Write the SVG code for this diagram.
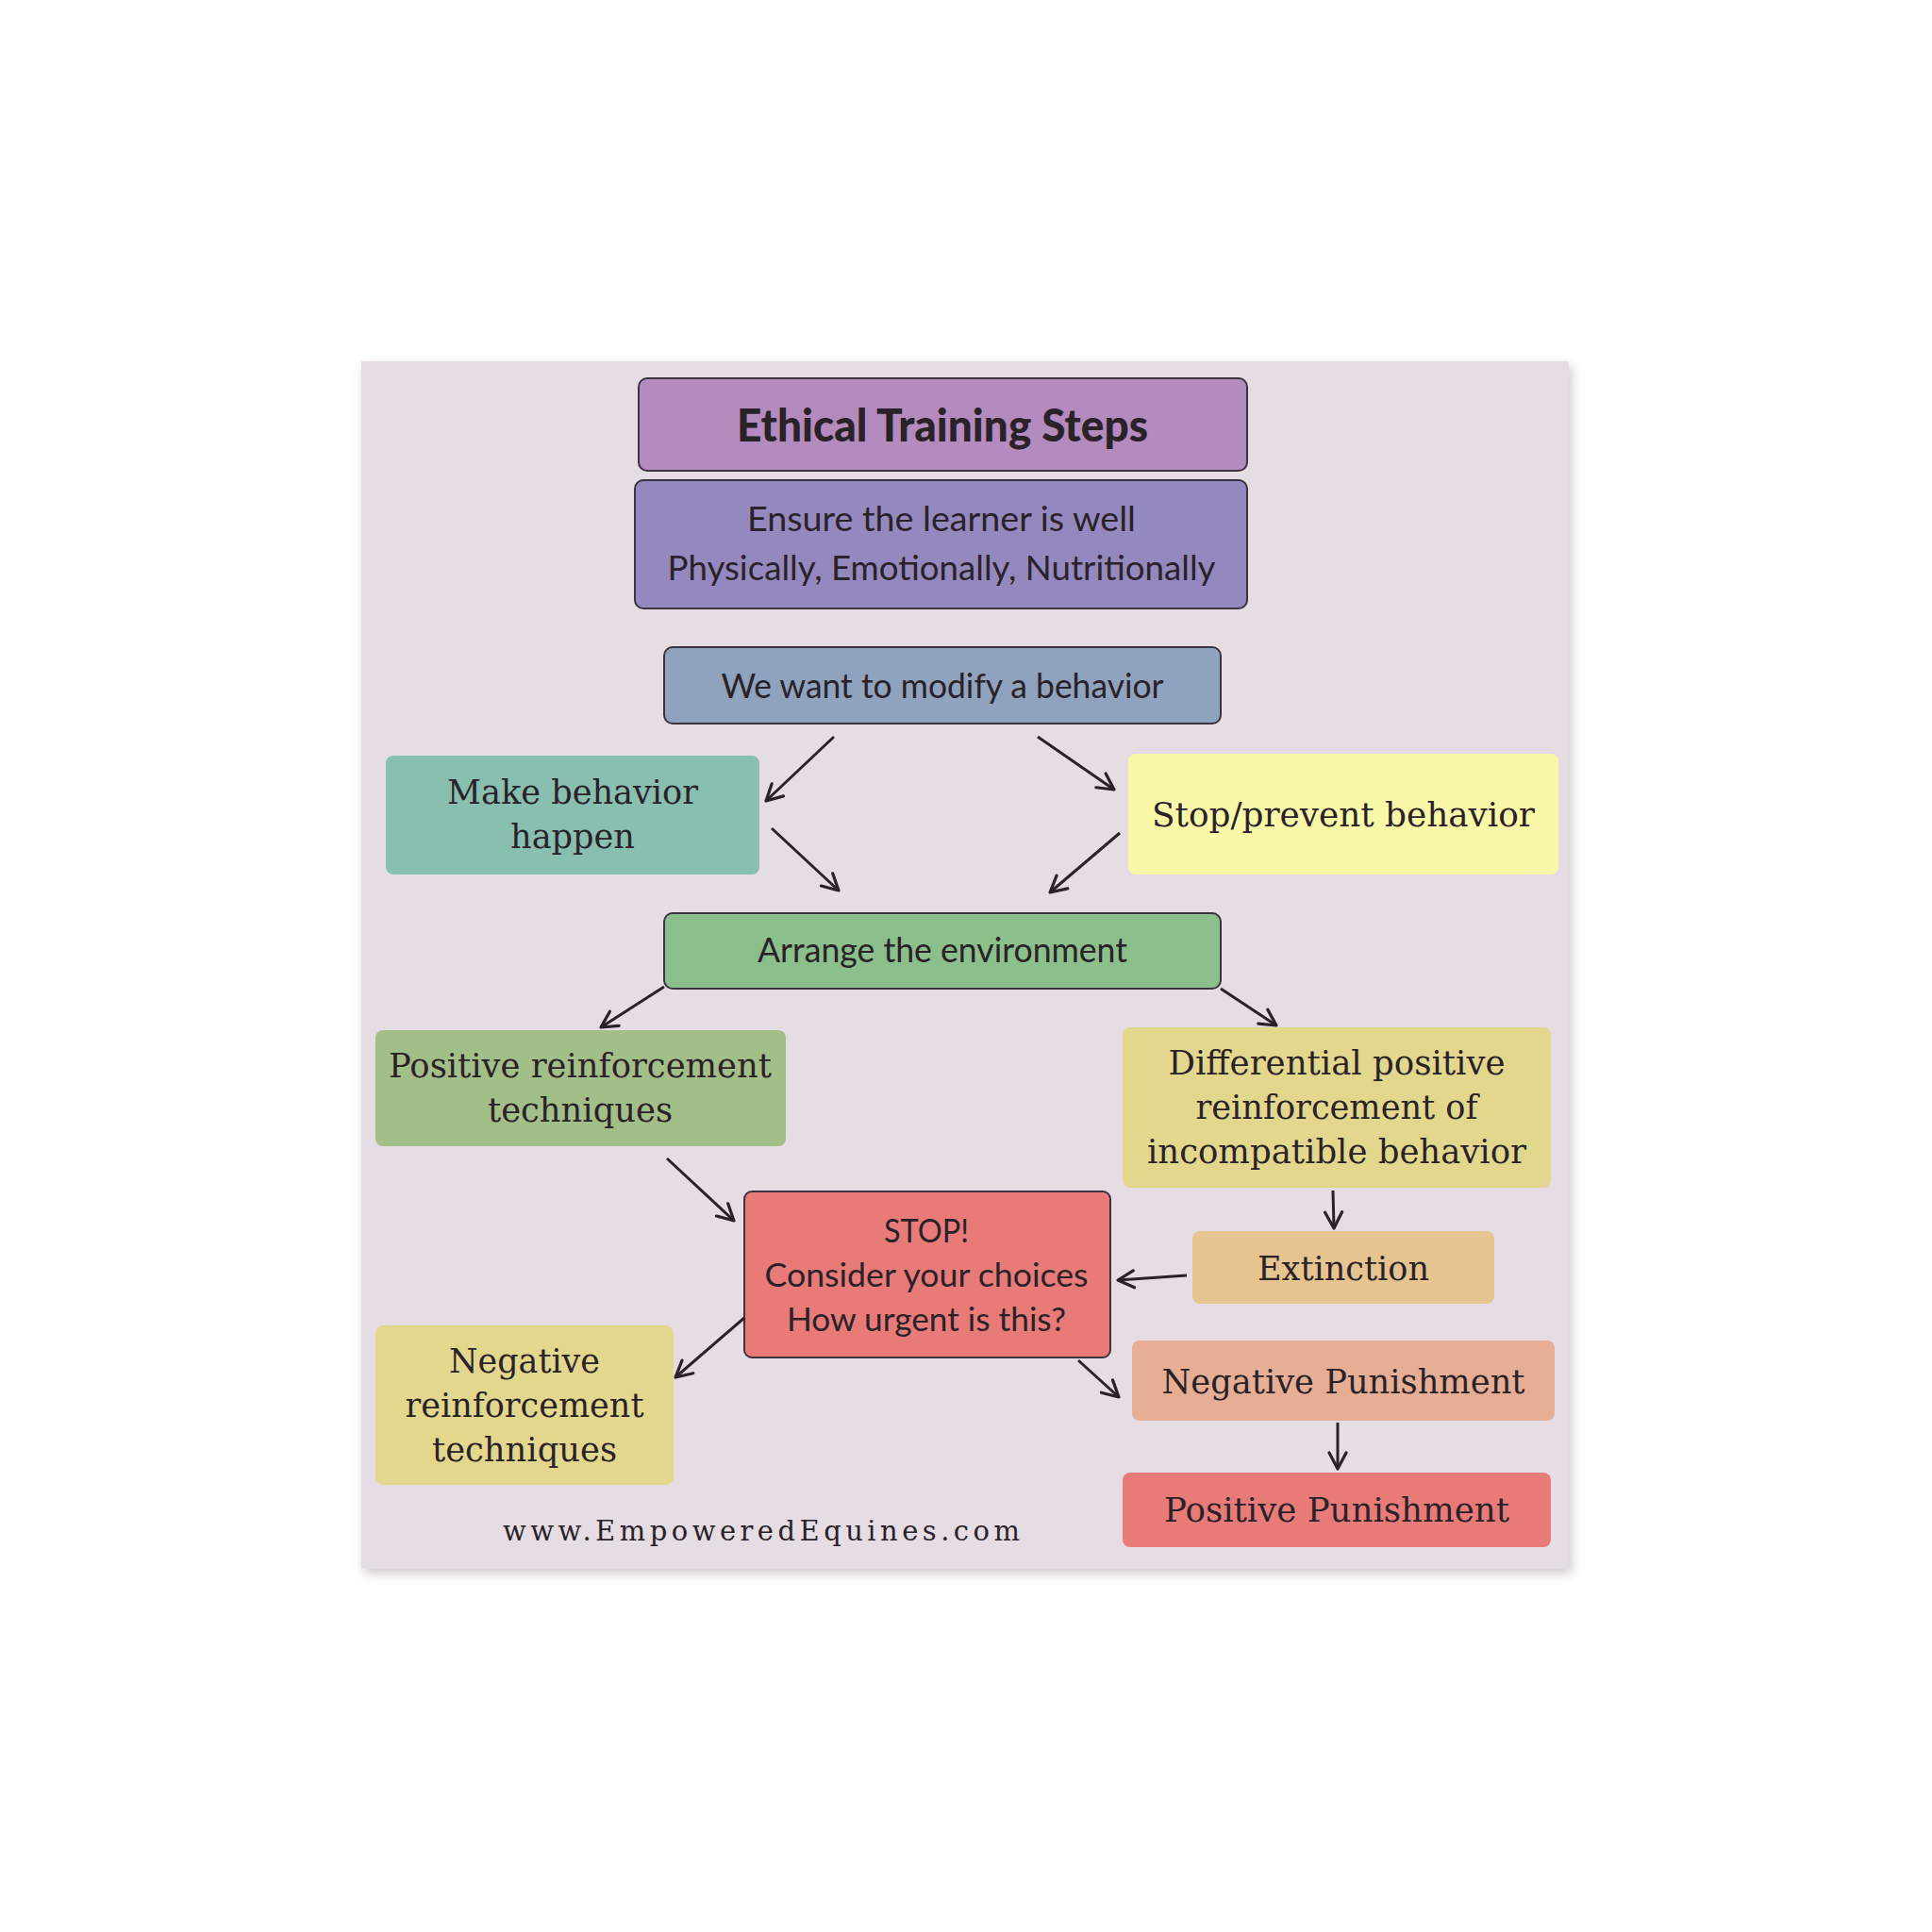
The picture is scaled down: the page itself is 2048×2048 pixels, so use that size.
<svg xmlns="http://www.w3.org/2000/svg" width="2048" height="2048" viewBox="0 0 2048 2048">
<style>
.sans{font-family:Lato,"Noto Sans","Liberation Sans",sans-serif;fill:#2a2228;text-anchor:middle}
.serif{font-family:"DejaVu Serif","Liberation Serif",serif;fill:#2a2228;text-anchor:middle}
.bordered{stroke:#3b3340;stroke-width:2}
.conn{stroke:#2a2228;stroke-width:3;fill:none;marker-end:url(#arr)}
</style>
<defs>
<marker id="arr" viewBox="0 0 24 24" refX="22" refY="12" markerWidth="24" markerHeight="24" markerUnits="userSpaceOnUse" orient="auto">
<path d="M5,3 L22,12 L5,21" fill="none" stroke="#2a2228" stroke-width="3.2" stroke-linecap="round" stroke-linejoin="round"/>
</marker>
<filter id="sh" x="-5%" y="-5%" width="110%" height="110%">
<feGaussianBlur stdDeviation="6"/>
</filter>
</defs>
<rect width="2048" height="2048" fill="#ffffff"/>
<rect x="386" y="388" width="1280" height="1280" fill="#cfc8cc" filter="url(#sh)"/>
<rect x="383" y="383" width="1280" height="1280" fill="#e6dce3"/>

<g id="title">
<rect class="bordered" x="677" y="401" width="645" height="98" rx="9" fill="#b48bbf"/>
<text class="sans" x="999" y="468" font-size="48" font-weight="900" textLength="436" lengthAdjust="spacingAndGlyphs">Ethical Training Steps</text>
</g>
<g id="ensure">
<rect class="bordered" x="673" y="509" width="649" height="136" rx="9" fill="#9489bf"/>
<text class="sans" x="998" y="563" font-size="37" textLength="412" lengthAdjust="spacingAndGlyphs">Ensure the learner is well</text>
<text class="sans" x="998" y="615" font-size="37" textLength="581" lengthAdjust="spacingAndGlyphs">Physically, Emotionally, Nutritionally</text>
</g>
<g id="modify">
<rect class="bordered" x="704" y="686" width="590" height="81" rx="9" fill="#8fa3bf"/>
<text class="sans" x="999" y="740" font-size="37" textLength="469" lengthAdjust="spacingAndGlyphs">We want to modify a behavior</text>
</g>
<g id="make">
<rect x="409" y="801" width="396" height="126" rx="8" fill="#88bfae"/>
<text class="serif" x="607" y="852" font-size="35" textLength="266" lengthAdjust="spacingAndGlyphs">Make behavior</text>
<text class="serif" x="607" y="899" font-size="35" textLength="132" lengthAdjust="spacingAndGlyphs">happen</text>
</g>
<g id="stop-prevent">
<rect x="1196" y="799" width="456" height="128" rx="8" fill="#f8f8a8"/>
<text class="serif" x="1424" y="876" font-size="35" textLength="406" lengthAdjust="spacingAndGlyphs">Stop/prevent behavior</text>
</g>
<g id="arrange">
<rect class="bordered" x="704" y="968" width="590" height="80" rx="9" fill="#8bbf8b"/>
<text class="sans" x="999" y="1020" font-size="37" textLength="392" lengthAdjust="spacingAndGlyphs">Arrange the environment</text>
</g>
<g id="posreinf">
<rect x="398" y="1092" width="435" height="123" rx="8" fill="#a3bf88"/>
<text class="serif" x="615" y="1142" font-size="35" textLength="406" lengthAdjust="spacingAndGlyphs">Positive reinforcement</text>
<text class="serif" x="615" y="1189" font-size="35" textLength="196" lengthAdjust="spacingAndGlyphs">techniques</text>
</g>
<g id="differential">
<rect x="1190" y="1089" width="454" height="170" rx="8" fill="#e3d68d"/>
<text class="serif" x="1417" y="1139" font-size="35" textLength="357" lengthAdjust="spacingAndGlyphs">Differential positive</text>
<text class="serif" x="1417" y="1186" font-size="35" textLength="299" lengthAdjust="spacingAndGlyphs">reinforcement of</text>
<text class="serif" x="1417" y="1233" font-size="35" textLength="402" lengthAdjust="spacingAndGlyphs">incompatible behavior</text>
</g>
<g id="stop">
<rect class="bordered" x="789" y="1263" width="388" height="176" rx="8" fill="#e87b78"/>
<text class="sans" x="982" y="1317" font-size="35" textLength="90" lengthAdjust="spacingAndGlyphs">STOP!</text>
<text class="sans" x="982" y="1364" font-size="35" textLength="343" lengthAdjust="spacingAndGlyphs">Consider your choices</text>
<text class="sans" x="982" y="1411" font-size="35" textLength="296" lengthAdjust="spacingAndGlyphs">How urgent is this?</text>
</g>
<g id="extinction">
<rect x="1264" y="1305" width="320" height="77" rx="8" fill="#e6c48f"/>
<text class="serif" x="1424" y="1357" font-size="35" textLength="182" lengthAdjust="spacingAndGlyphs">Extinction</text>
</g>
<g id="negreinf">
<rect x="398" y="1405" width="316" height="169" rx="8" fill="#e3d68d"/>
<text class="serif" x="556" y="1455" font-size="35" textLength="160" lengthAdjust="spacingAndGlyphs">Negative</text>
<text class="serif" x="556" y="1502" font-size="35" textLength="253" lengthAdjust="spacingAndGlyphs">reinforcement</text>
<text class="serif" x="556" y="1549" font-size="35" textLength="196" lengthAdjust="spacingAndGlyphs">techniques</text>
</g>
<g id="negpun">
<rect x="1200" y="1421" width="448" height="85" rx="8" fill="#e6ae94"/>
<text class="serif" x="1424" y="1477" font-size="35" textLength="385" lengthAdjust="spacingAndGlyphs">Negative Punishment</text>
</g>
<g id="pospun">
<rect x="1190" y="1561" width="454" height="79" rx="8" fill="#e87b78"/>
<text class="serif" x="1417" y="1613" font-size="35" textLength="366" lengthAdjust="spacingAndGlyphs">Positive Punishment</text>
</g>
<text class="serif" x="807" y="1633" font-size="29" textLength="548" lengthAdjust="spacing">www.EmpoweredEquines.com</text>

<g id="connectors">
<line class="conn" x1="884" y1="781" x2="812" y2="849"/>
<line class="conn" x1="1100" y1="781" x2="1181" y2="837"/>
<line class="conn" x1="818" y1="878" x2="889" y2="944"/>
<line class="conn" x1="1187" y1="883" x2="1113" y2="946"/>
<line class="conn" x1="704" y1="1046" x2="637" y2="1089"/>
<line class="conn" x1="1294" y1="1048" x2="1353" y2="1087"/>
<line class="conn" x1="707" y1="1228" x2="778" y2="1294"/>
<line class="conn" x1="1413" y1="1262" x2="1414" y2="1302"/>
<line class="conn" x1="1258" y1="1352" x2="1185" y2="1357"/>
<line class="conn" x1="789" y1="1397" x2="716" y2="1460"/>
<line class="conn" x1="1143" y1="1442" x2="1186" y2="1481"/>
<line class="conn" x1="1418" y1="1508" x2="1418" y2="1557"/>
</g>
</svg>
